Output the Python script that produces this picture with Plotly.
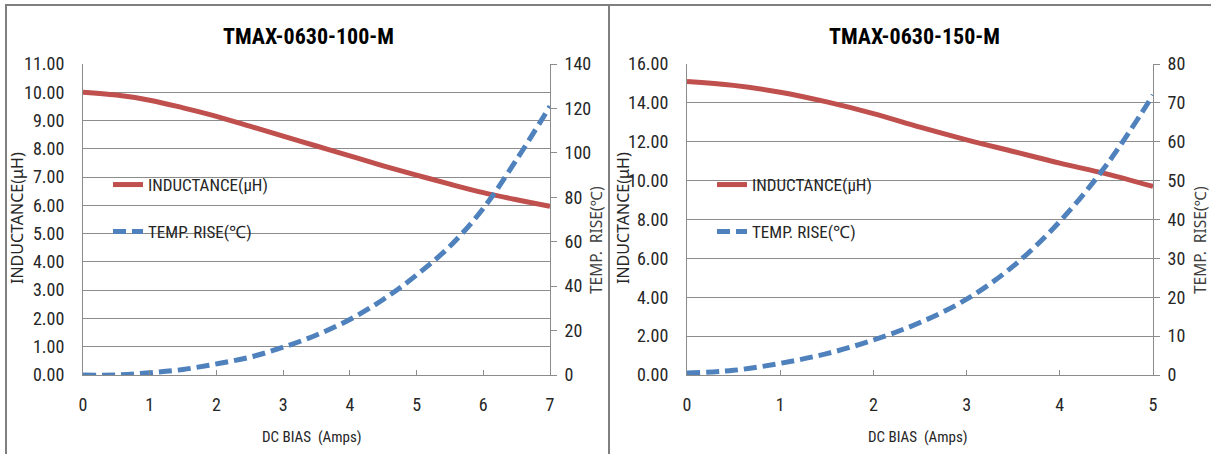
import plotly.graph_objects as go

W, H = 1211, 454

# ---- data ----
bias_100 = [0, 0.5, 1, 1.5, 2, 2.5, 3, 3.5, 4, 4.5, 5, 5.5, 6, 6.5, 7]
ind_100 = [10.0, 9.9, 9.72, 9.45, 9.15, 8.8, 8.45, 8.1, 7.75, 7.4, 7.07, 6.75, 6.45, 6.2, 5.97]
temp_100 = [0, 0, 1, 2.5, 5, 8, 12.5, 18, 25, 34, 45, 58, 75, 97, 121]

bias_150 = [0, 0.5, 1, 1.5, 2, 2.5, 3, 3.5, 4, 4.5, 5]
ind_150 = [15.1, 14.9, 14.55, 14.05, 13.45, 12.75, 12.1, 11.5, 10.9, 10.35, 9.7]
temp_150 = [0.5, 1.2, 3, 5.5, 9, 13.5, 19.5, 28, 39.5, 54, 72]

titles = ["TMAX-0630-100-M", "TMAX-0630-150-M"]
x_title = "DC BIAS  (Amps)"
y1_title = "INDUCTANCE(μH)"
y2_title = "TEMP.  RISE(℃)"
name_ind = "INDUCTANCE(μH)"
name_temp = "TEMP. RISE(℃)"

x_ticks_100 = [0, 1, 2, 3, 4, 5, 6, 7]
x_ticks_150 = [0, 1, 2, 3, 4, 5]
y1_ticks_100 = [0, 1, 2, 3, 4, 5, 6, 7, 8, 9, 10, 11]
y2_ticks_100 = [0, 20, 40, 60, 80, 100, 120, 140]
y1_ticks_150 = [0, 2, 4, 6, 8, 10, 12, 14, 16]
y2_ticks_150 = [0, 10, 20, 30, 40, 50, 60, 70, 80]

RED = "#C0504D"
BLUE = "#4F81BD"
GRID = "#8C8C8C"
NARROW = "Liberation Sans Narrow, Arial Narrow, Roboto Condensed, Liberation Sans, sans-serif"
WIDE = "Noto Sans, DejaVu Sans, sans-serif"

def px(x):
    return x / W

def py(y):
    return 1 - y / H

fig = go.Figure()

fig.add_trace(go.Scatter(x=bias_100, y=ind_100, mode="lines", name=name_ind,
                         line=dict(color=RED, width=5, shape="spline"),
                         xaxis="x", yaxis="y", legend="legend"))
fig.add_trace(go.Scatter(x=bias_100, y=temp_100, mode="lines", name=name_temp,
                         line=dict(color=BLUE, width=5, dash="13px,6px", shape="spline"),
                         xaxis="x", yaxis="y2", legend="legend2"))
fig.add_trace(go.Scatter(x=bias_150, y=ind_150, mode="lines", name=name_ind,
                         line=dict(color=RED, width=5, shape="spline"),
                         xaxis="x2", yaxis="y3", legend="legend3"))
fig.add_trace(go.Scatter(x=bias_150, y=temp_150, mode="lines", name=name_temp,
                         line=dict(color=BLUE, width=5, dash="13px,6px", shape="spline"),
                         xaxis="x2", yaxis="y4", legend="legend4"))

tickfont = dict(family=NARROW, size=18, color="#262626")

def xaxis(dom, ticks, anchor):
    return dict(domain=dom, range=[ticks[0], ticks[-1]], tickvals=ticks,
                showgrid=False, zeroline=False, showline=True, linecolor=GRID,
                ticks="inside", ticklen=5, tickcolor=GRID, tickfont=tickfont,
                ticklabelstandoff=13,
                anchor=anchor, fixedrange=True, automargin=False)

def y1axis(dom, ticks, anchor):
    return dict(domain=dom, range=[ticks[0], ticks[-1]], tickvals=ticks,
                tickformat=".2f", showgrid=True, gridcolor=GRID, gridwidth=1,
                zeroline=False, showline=True, linecolor=GRID, ticks="",
                ticklabelstandoff=14,
                tickfont=tickfont, anchor=anchor, fixedrange=True, automargin=False)

def y2axis(ticks, anchor, overlay):
    return dict(range=[ticks[0], ticks[-1]], tickvals=ticks, overlaying=overlay,
                side="right", showgrid=False, zeroline=False, showline=True,
                linecolor=GRID, ticks="outside", ticklen=6, tickcolor=GRID,
                ticklabelstandoff=4,
                tickfont=tickfont, anchor=anchor, fixedrange=True, automargin=False)

ydom = [py(375), py(64)]
fig.update_layout(
    width=W, height=H, margin=dict(l=0, r=0, t=0, b=0, autoexpand=False),
    paper_bgcolor="white", plot_bgcolor="white", showlegend=True,
    xaxis=xaxis([px(83), px(550)], x_ticks_100, "y"),
    yaxis=y1axis(ydom, y1_ticks_100, "x"),
    yaxis2=y2axis(y2_ticks_100, "x", "y"),
    xaxis2=xaxis([px(687), px(1153)], x_ticks_150, "y3"),
    yaxis3=y1axis(ydom, y1_ticks_150, "x2"),
    yaxis4=y2axis(y2_ticks_150, "x2", "y3"),
)

legfont = dict(family=NARROW, size=17, color="#262626")
def leg(x, y):
    return dict(x=px(x), y=py(y), xref="paper", yref="paper",
                xanchor="left", yanchor="middle", visible=True,
                bgcolor="rgba(0,0,0,0)", font=legfont, itemwidth=30)
fig.update_layout(
    legend=leg(108, 185), legend2=leg(108, 232),
    legend3=leg(712, 185), legend4=leg(712, 232),
)

ann = []
def add_ann(x, y, text, font, angle=0):
    ann.append(dict(x=px(x), y=py(y), xref="paper", yref="paper", text=text,
                    xanchor="center", yanchor="middle", textangle=angle,
                    showarrow=False, font=font))

for cx, t in [(308, titles[0]), (914, titles[1])]:
    add_ann(cx, 37, "<b>%s</b>" % t, dict(family=NARROW, size=22, color="black"))
for cx in [312, 918]:
    add_ann(cx, 437, x_title, dict(family=NARROW, size=15, color="#262626"))
for cx in [17, 623]:
    add_ann(cx, 218, y1_title, dict(family=WIDE, size=16, color="#262626"), -90)
for cx in [596, 1200]:
    add_ann(cx, 240, y2_title, dict(family=WIDE, size=15.5, color="#404040"), -90)
fig.update_layout(annotations=ann)

shapes = [
    dict(type="line", xref="paper", yref="paper", x0=px(5), x1=1, y0=py(5), y1=py(5),
         line=dict(color="#7F7F7F", width=2)),
    dict(type="line", xref="paper", yref="paper", x0=px(6), x1=px(6), y0=py(5), y1=0,
         line=dict(color="#7F7F7F", width=2)),
    dict(type="line", xref="paper", yref="paper", x0=px(609), x1=px(609), y0=py(5), y1=0,
         line=dict(color="#7F7F7F", width=2)),
]
fig.update_layout(shapes=shapes)

fig.write_html("out.html", config={"displayModeBar": False},
               post_script="document.body.style.margin='0px';document.body.style.overflow='hidden';")
